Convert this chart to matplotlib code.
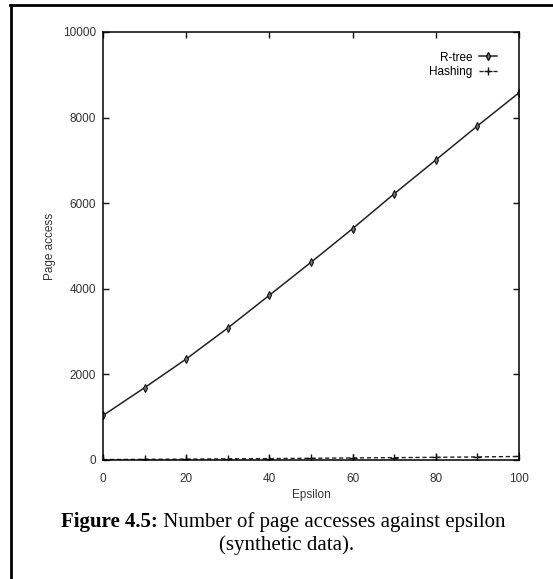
import numpy as np
import matplotlib
matplotlib.use("Agg")
import matplotlib.pyplot as plt
from matplotlib.lines import Line2D

# data
epsilon = [0, 10, 20, 30, 40, 50, 60, 70, 80, 90, 100]
rtree = [1040, 1690, 2360, 3085, 3850, 4620, 5405, 6220, 7010, 7805, 8580]
hashing = [10, 15, 20, 28, 33, 40, 48, 55, 63, 72, 82]

x_ticks = [0, 20, 40, 60, 80, 100]
y_ticks = [0, 2000, 4000, 6000, 8000, 10000]

plt.rcParams['font.family'] = ['Liberation Sans', 'DejaVu Sans']

W, H = 553, 579
fig = plt.figure(figsize=(W / 100, H / 100), dpi=100)
ax = fig.add_axes([103 / W, 1 - 460 / H, 416 / W, 428 / H])

ax.plot(epsilon, rtree, color='#222222', lw=1.1, marker='d', ms=4,
        mfc='#777777', mec='#111111', mew=0.8, label='R-tree')
ax.plot(epsilon, hashing, color='#222222', lw=1.0, ls=(0, (3, 2)), marker='+',
        ms=6, mew=1.0, mec='#111111', label='Hashing')

ax.set_xlim(0, 100)
ax.set_ylim(0, 10000)
ax.set_xticks(x_ticks)
ax.set_yticks(y_ticks)
ax.tick_params(direction='in', length=4, width=1, top=True, right=True,
               labelsize=8.5, colors='#111111', labelcolor='#333333', pad=5)
ax.tick_params(axis='x', pad=9)
for s in ax.spines.values():
    s.set_linewidth(1.1)
ax.set_xlabel('Epsilon', fontsize=8.5, labelpad=3, color='#333333')
ax.set_ylabel('Page access', fontsize=8.5, labelpad=5, color='#333333')

handles = [Line2D([], [], color='#222222', lw=1.1, marker='d', ms=4,
                  mfc='#777777', mec='#111111'),
           Line2D([], [], color='#222222', lw=1.0, ls=(0, (3, 2)), marker='+',
                  ms=6, mec='#111111')]
ax.legend(handles, ['R-tree', 'Hashing'], loc='upper right', frameon=False,
          markerfirst=False, fontsize=8.5, handlelength=1.6, handletextpad=0.5,
          labelspacing=0.2, borderaxespad=0.9, bbox_to_anchor=(0.985, 0.99))

# caption: bold label followed by plain text, left edge at x=61px
cap_fs = 15
y1 = 1 - 522 / H
t1 = fig.text(61 / W, y1, 'Figure 4.5:', ha='left', va='center',
              fontsize=cap_fs, weight='bold', family='Liberation Serif')
fig.canvas.draw()
x_after = t1.get_window_extent().x1 / W
fig.text(x_after, y1, ' Number of page accesses against epsilon', ha='left',
         va='center', fontsize=cap_fs, family='Liberation Serif')
fig.text(287 / W, 1 - 545 / H, '(synthetic data).', ha='center', va='center',
         fontsize=cap_fs, family='Liberation Serif')

# outer frame lines (top and left only)
fig.add_artist(Line2D([10 / W, 1.0], [1 - 5 / H, 1 - 5 / H], color='black',
                      lw=2, transform=fig.transFigure))
fig.add_artist(Line2D([11 / W, 11 / W], [0.0, 1 - 5 / H], color='black',
                      lw=2, transform=fig.transFigure))

fig.savefig('out.png', dpi=100)
